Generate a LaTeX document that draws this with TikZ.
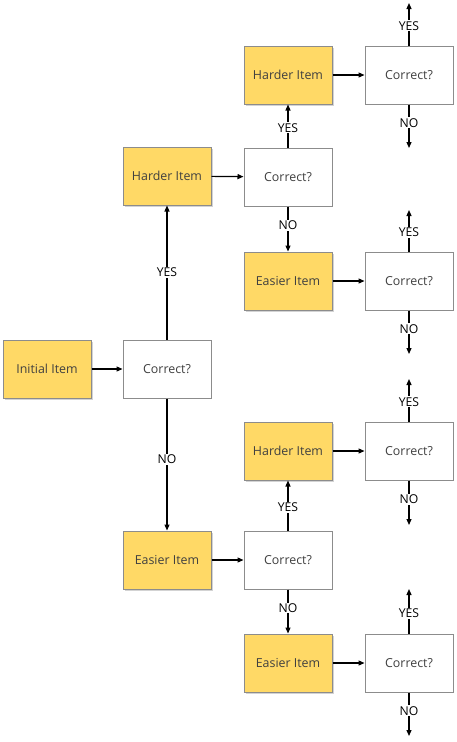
\documentclass[tikz,border=0pt]{standalone}
\usepackage{fontspec}
\setmainfont{Open Sans}
\usetikzlibrary{shadows,arrows.meta}
\definecolor{itemfill}{HTML}{FFD966}
\definecolor{boxline}{HTML}{8C8C8C}
\definecolor{txt}{HTML}{404040}
\tikzset{
  base/.style={draw=boxline, line width=1pt, minimum width=88pt, minimum height=58pt, inner sep=0pt, font=\fontsize{12.4}{14}\selectfont, text=txt},
  item/.style={base, fill=itemfill, drop shadow={shadow xshift=1.5pt, shadow yshift=-1.5pt, opacity=0.35, fill=gray}},
  check/.style={base, fill=white},
  conn/.style={line width=1.2pt, -{Triangle[length=6pt,width=5pt]}},
  lab/.style={fill=white, inner sep=1pt, font=\fontsize{12.2}{14}\selectfont, text=black},
  yeslab/.style={lab, pos=0.46},
  nolab/.style={lab, pos=0.42}
}
\begin{document}
\begin{tikzpicture}[x=1pt,y=-1pt]
\useasboundingbox (0,0) rectangle (456,742);
% column 1
\node[item]  (init) at (47,369) {Initial Item};
\node[check] (c0)   at (167,369) {Correct?};
\node[item]  (h1)   at (167,176) {Harder Item};
\node[item]  (e1)   at (167,560) {Easier Item};
% column 2
\node[check] (c1)   at (288,177) {Correct?};
\node[check] (c2)   at (288,560) {Correct?};
\node[item]  (h11)  at (288,75)  {Harder Item};
\node[item]  (e11)  at (288,281) {Easier Item};
\node[item]  (h21)  at (288,451) {Harder Item};
\node[item]  (e21)  at (288,663) {Easier Item};
% column 3
\node[check] (ca) at (409,75)  {Correct?};
\node[check] (cb) at (409,281) {Correct?};
\node[check] (cc) at (409,451) {Correct?};
\node[check] (cd) at (409,663) {Correct?};
% free ends
\coordinate (ya) at (409,3);   \coordinate (na) at (409,148);
\coordinate (yb) at (409,210); \coordinate (nb) at (409,354);
\coordinate (yc) at (409,379); \coordinate (nc) at (409,525);
\coordinate (yd) at (409,589); \coordinate (nd) at (409,736);
% connectors
\draw[conn] (init) -- (c0);
\draw[conn] (c0) -- node[lab]{YES} (h1);
\draw[conn] (c0) -- node[yeslab]{NO} (e1);
\draw[conn] (h1) -- (c1);
\draw[conn] (e1) -- (c2);
\draw[conn] (c1) -- node[yeslab]{YES} (h11);
\draw[conn] (c1) -- node[nolab]{NO} (e11);
\draw[conn] (c2) -- node[yeslab]{YES} (h21);
\draw[conn] (c2) -- node[nolab]{NO} (e21);
\draw[conn] (h11) -- (ca);
\draw[conn] (e11) -- (cb);
\draw[conn] (h21) -- (cc);
\draw[conn] (e21) -- (cd);
\foreach \b/\y/\n in {ca/ya/na, cb/yb/nb, cc/yc/nc, cd/yd/nd}{
  \draw[conn] (\b) -- node[yeslab]{YES} (\y);
  \draw[conn] (\b) -- node[nolab]{NO} (\n);
}
\end{tikzpicture}
\end{document}
